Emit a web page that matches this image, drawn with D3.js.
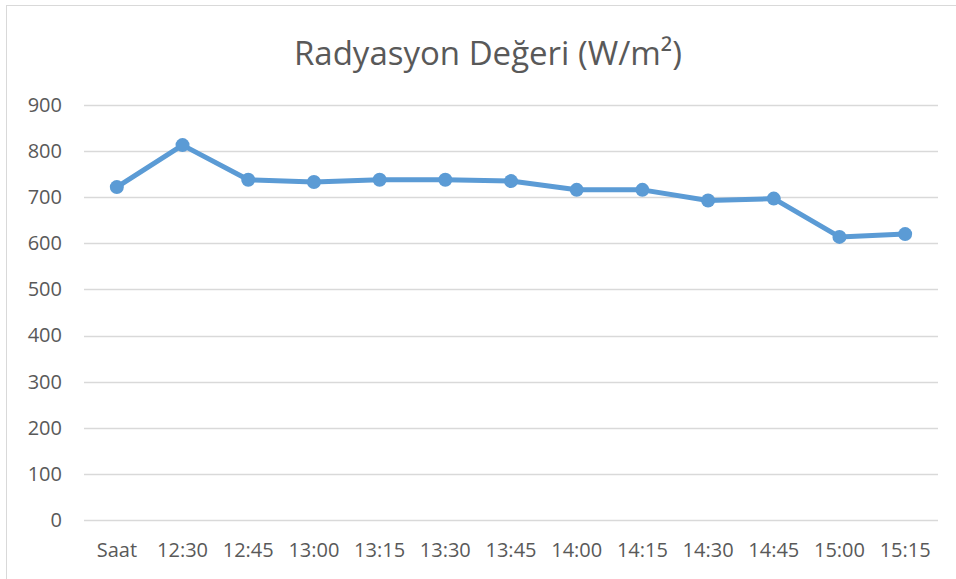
<!DOCTYPE html>
<html>
<head>
<meta charset="utf-8">
<script src="https://cdn.jsdelivr.net/npm/d3@7"></script>
<style>
  body { margin: 0; background: #fff; }
  text { font-family: "Open Sans", "Noto Sans", sans-serif; fill: #595959; }
</style>
</head>
<body>
<script>
// Saat etiketleri ve radyasyon degerleri
const saatler = ["Saat", "12:30", "12:45", "13:00", "13:15", "13:30", "13:45", "14:00", "14:15", "14:30", "14:45", "15:00", "15:15"];
const radyasyon = [722, 813, 738, 733, 738, 738, 735, 716, 716, 693, 697, 614, 620];
const yTicks = [0, 100, 200, 300, 400, 500, 600, 700, 800, 900];

const W = 956, H = 579;
const margin = {top: 105, right: 18, bottom: 59, left: 84};
const width = W - margin.left - margin.right;
const height = H - margin.top - margin.bottom;

const svg = d3.select("body").append("svg")
  .attr("width", W)
  .attr("height", H);

// Cerceve
svg.append("rect")
  .attr("x", 6.5).attr("y", 5.5)
  .attr("width", 1000).attr("height", 1000)
  .attr("fill", "none").attr("stroke", "#d9d9d9");

// Baslik
svg.append("text")
  .attr("x", 488).attr("y", 65)
  .attr("text-anchor", "middle")
  .style("font-size", "33px")
  .text("Radyasyon Değeri (W/m²)");

const g = svg.append("g")
  .attr("transform", `translate(${margin.left},${margin.top})`);

const x = d3.scaleBand().domain(saatler).range([0, width]);
const y = d3.scaleLinear().domain([0, 900]).range([height, 0]);

// Izgara cizgileri
g.append("g")
  .selectAll("line")
  .data(yTicks)
  .enter().append("line")
  .attr("x1", 0).attr("x2", width)
  .attr("y1", d => Math.round(y(d)) + 0.5)
  .attr("y2", d => Math.round(y(d)) + 0.5)
  .attr("stroke", "#d9d9d9")
  .attr("stroke-width", 1.3);

// Eksen Y
const yAxis = g.append("g")
  .call(d3.axisLeft(y).tickValues(yTicks).tickSize(0).tickPadding(22));
yAxis.select(".domain").remove();
yAxis.selectAll("text").style("font-size", "20px").attr("fill", "#595959");

// Eksen X
const xAxis = g.append("g")
  .attr("transform", `translate(0,${height})`)
  .call(d3.axisBottom(x).tickSize(0).tickPadding(23));
xAxis.select(".domain").remove();
xAxis.selectAll("text").style("font-size", "20px").attr("fill", "#595959");

const cx = (d, i) => x(saatler[i]) + x.bandwidth() / 2;

// Cizgi
const line = d3.line()
  .x(cx)
  .y(d => y(d));

g.append("path")
  .datum(radyasyon)
  .attr("d", line)
  .attr("fill", "none")
  .attr("stroke", "#5b9bd5")
  .attr("stroke-width", 5)
  .attr("stroke-linejoin", "round");

// Noktalar
g.selectAll(".dot")
  .data(radyasyon)
  .enter().append("circle")
  .attr("class", "dot")
  .attr("cx", cx)
  .attr("cy", d => y(d))
  .attr("r", 7)
  .attr("fill", "#5b9bd5");
</script>
</body>
</html>
